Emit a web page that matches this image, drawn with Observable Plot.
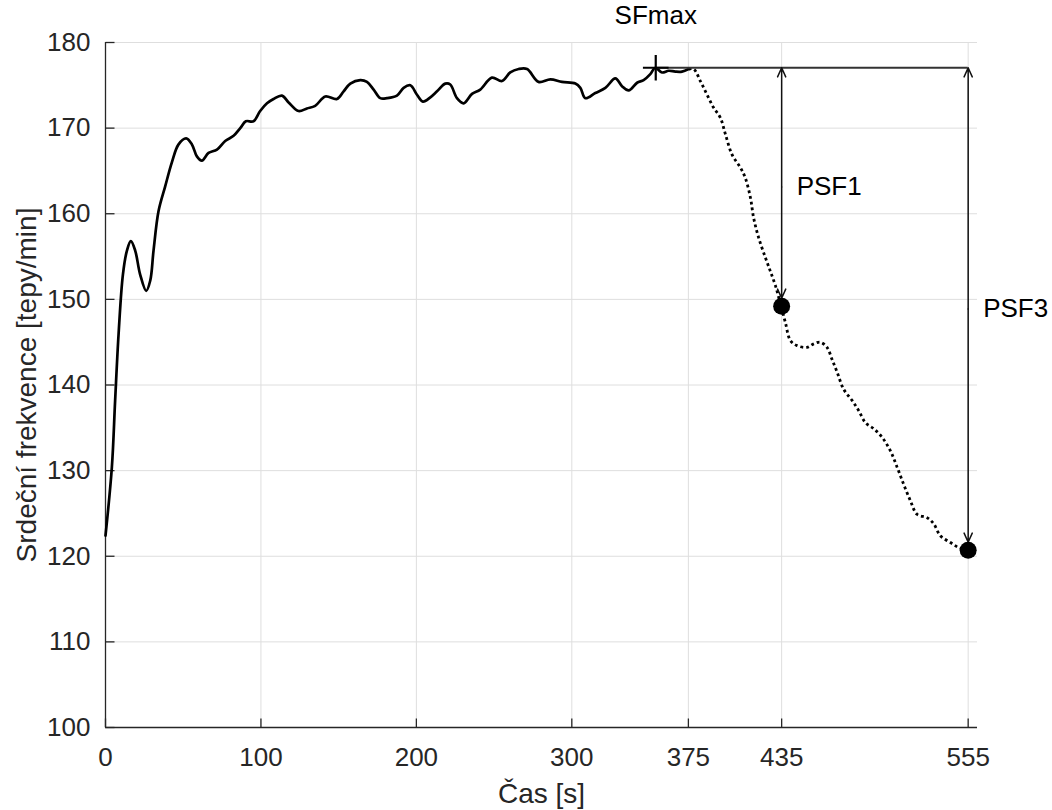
<!DOCTYPE html>
<html>
<head>
<meta charset="utf-8">
<script src="https://cdn.jsdelivr.net/npm/d3@7"></script>
<script src="https://cdn.jsdelivr.net/npm/@observablehq/plot@0.6"></script>
<style>
  body { margin: 0; background: #fff; }
  #chart svg { display: block; }
</style>
</head>
<body>
<div id="chart"></div>
<script>
// ---- Data ----
// Exercise phase (solid line): time [s], heart rate [bpm]
const exerciseTime = [0, 4.1, 6.2, 8.4, 11.2, 13.8, 16.3, 19.1, 22.3, 26.2, 28.8, 30.9, 34.1, 38.4, 42.7, 47, 51.9, 55.6, 58.8, 62, 66.3, 71.7, 77, 82.4, 86.7, 90.3, 95.2, 99.5, 103.9, 108.1, 113.5, 117.8, 124.2, 129.6, 134.9, 141.4, 148.9, 153.2, 157.5, 163.9, 168.2, 172.5, 176.8, 181.1, 187.5, 191.8, 196.1, 200.4, 204.2, 209, 213.3, 218.6, 221.8, 226.1, 230.4, 235.8, 241.1, 248.6, 255.1, 260.4, 265.8, 271.2, 278.6, 286.2, 293.7, 302.3, 305.5, 308.7, 315.1, 321.6, 328, 332.3, 336.6, 342, 346.2, 350.5, 353.7, 358, 362.3, 366.6, 370.9, 375.2];
const exerciseHR = [122.4, 130.4, 138.2, 145.9, 152.9, 155.7, 156.8, 155.7, 152.9, 151.0, 152.2, 155.7, 160.3, 163.2, 166.0, 168.1, 168.8, 168.1, 166.7, 166.2, 167.1, 167.5, 168.5, 169.1, 170.0, 170.8, 170.8, 172.0, 172.9, 173.4, 173.8, 173.0, 172.0, 172.3, 172.6, 173.7, 173.4, 174.3, 175.2, 175.6, 175.4, 174.5, 173.5, 173.5, 173.8, 174.7, 175.0, 173.9, 173.1, 173.6, 174.3, 175.2, 175.1, 173.5, 172.9, 174.0, 174.5, 175.9, 175.5, 176.5, 176.9, 176.9, 175.4, 175.7, 175.4, 175.2, 174.7, 173.5, 174.1, 174.7, 175.8, 174.9, 174.4, 175.3, 175.6, 176.3, 177.05, 176.5, 176.7, 176.6, 176.6, 176.9];

// Recovery phase (dotted line)
const recoveryTime = [375.2, 378.4, 382.7, 387, 391.2, 395.6, 398.8, 403.1, 408.4, 411.6, 414.9, 417, 420.2, 424.5, 427.7, 431, 434.6, 437.4, 440.6, 444.9, 451.3, 455.6, 459.9, 464.2, 467.4, 470.7, 474.9, 480.3, 484.6, 488.9, 494.2, 499.6, 505, 509.3, 513.5, 517.8, 522.1, 528.6, 532.8, 537.1, 543.6, 549, 555];
const recoveryHR = [176.9, 176.9, 175.5, 173.9, 172.4, 171.2, 169.3, 166.9, 165.4, 164.2, 161.9, 159.5, 157.2, 154.9, 153.3, 151.6, 149.2, 147.3, 145.2, 144.6, 144.4, 144.8, 145.0, 144.4, 143.0, 141.5, 139.5, 138.2, 137.0, 135.6, 134.9, 133.9, 132.3, 130.4, 128.4, 126.5, 124.9, 124.5, 123.8, 122.4, 121.6, 121.0, 120.7];

// Annotated points
const sfMaxPoint = [{t: 354, hr: 177.05, label: "SFmax"}];
const recoveryPoints = [
  {t: 435, hr: 149.2, label: "PSF1"},
  {t: 555, hr: 120.7, label: "PSF3"}
];

// Axis ticks and labels
const xTickValues = [0, 100, 200, 300, 375, 435, 555];
const yTickValues = [100, 110, 120, 130, 140, 150, 160, 170, 180];
const xLabel = "Čas [s]";
const yLabel = "Srdeční frekvence [tepy/min]";

// ---- Build tables for Plot ----
const exercise = exerciseTime.map((t, i) => ({t, hr: exerciseHR[i]}));
const recovery = recoveryTime.map((t, i) => ({t, hr: recoveryHR[i]}));
const sfMax = sfMaxPoint[0];
const lastT = recoveryPoints[recoveryPoints.length - 1].t;
const arrowsUp = recoveryPoints.map(d => ({t: d.t, from: (sfMax.hr + d.hr) / 2, to: sfMax.hr}));
const arrowsDown = recoveryPoints.map(d => ({t: d.t, from: (sfMax.hr + d.hr) / 2, to: d.hr}));
const labelRows = recoveryPoints.map(d => ({t: d.t, mid: (sfMax.hr + d.hr) / 2, label: d.label}));

const tickUp = {draw(ctx, size) { const l = Math.sqrt(size / Math.PI); ctx.moveTo(0, 0); ctx.lineTo(0, -l); }};
const tickRight = {draw(ctx, size) { const l = Math.sqrt(size / Math.PI); ctx.moveTo(0, 0); ctx.lineTo(l, 0); }};

const axisColor = "#262626";
const gridColor = "#dedede";

const chart = Plot.plot({
  width: 1052,
  height: 810,
  marginLeft: 105,
  marginRight: 75,
  marginTop: 42,
  marginBottom: 83,
  style: {fontFamily: "'Liberation Sans', Arial, Helvetica, sans-serif", fontSize: "26px", color: axisColor, background: "#fff", overflow: "visible"},
  x: {domain: [0, 561], ticks: xTickValues, tickFormat: d => String(d), tickSize: 0, tickPadding: 20, label: null},
  y: {domain: [100, 180], ticks: yTickValues, tickFormat: d => String(d), tickSize: 0, tickPadding: 15, label: null},
  marks: [
    // grid
    Plot.ruleX(xTickValues, {x: d => d, stroke: gridColor, strokeWidth: 1}),
    Plot.ruleY(yTickValues, {y: d => d, stroke: gridColor, strokeWidth: 1}),
    // axis lines
    Plot.ruleX([0], {x: d => d, stroke: axisColor, strokeWidth: 1.3}),
    Plot.ruleY([100], {y: d => d, stroke: axisColor, strokeWidth: 1.3}),
    // inward ticks
    Plot.dot(xTickValues, {x: d => d, y: () => 100, symbol: tickUp, r: 9, fill: "none", stroke: axisColor, strokeWidth: 1.3}),
    Plot.dot(yTickValues, {x: () => 0, y: d => d, symbol: tickRight, r: 9, fill: "none", stroke: axisColor, strokeWidth: 1.3}),
    // heart-rate curve
    Plot.line(exercise, {x: "t", y: "hr", stroke: "#000", strokeWidth: 2.7, curve: "catmull-rom"}),
    Plot.line(recovery, {x: "t", y: "hr", stroke: "#000", strokeWidth: 2.8, strokeDasharray: "2.8,3", strokeLinecap: "butt", strokeLinejoin: "miter", curve: "catmull-rom"}),
    // SFmax horizontal reference
    Plot.ruleY(sfMaxPoint, {y: "hr", x1: "t", x2: () => lastT, stroke: "#333", strokeWidth: 1.8}),
    // double arrows
    Plot.arrow(arrowsUp, {x: "t", y1: "from", y2: "to", stroke: "#111", strokeWidth: 1.5, headLength: 10, headAngle: 48}),
    Plot.arrow(arrowsDown, {x: "t", y1: "from", y2: "to", stroke: "#111", strokeWidth: 1.5, headLength: 10, headAngle: 48, insetEnd: 8}),
    // markers
    Plot.dot(sfMaxPoint, {x: "t", y: "hr", symbol: "plus", r: 8.3, stroke: "#000", strokeWidth: 2.2}),
    Plot.dot(recoveryPoints, {x: "t", y: "hr", r: 8.5, fill: "#000"}),
    // annotations
    Plot.text(sfMaxPoint, {x: "t", y: "hr", text: "label", dy: -52, fontSize: 26, fill: "#000"}),
    Plot.text(labelRows, {x: "t", y: "mid", text: "label", dx: 15, textAnchor: "start", fontSize: 26, fill: "#000"}),
    // axis labels
    Plot.text([xLabel], {text: d => d, frameAnchor: "bottom", textAnchor: "middle", lineAnchor: "middle", dy: 67, fontSize: 28, fill: axisColor}),
    Plot.text([yLabel], {text: d => d, frameAnchor: "left", textAnchor: "middle", lineAnchor: "middle", dx: -78, rotate: -90, fontSize: 28, fill: axisColor})
  ]
});

document.getElementById("chart").appendChild(chart);
</script>
</body>
</html>
